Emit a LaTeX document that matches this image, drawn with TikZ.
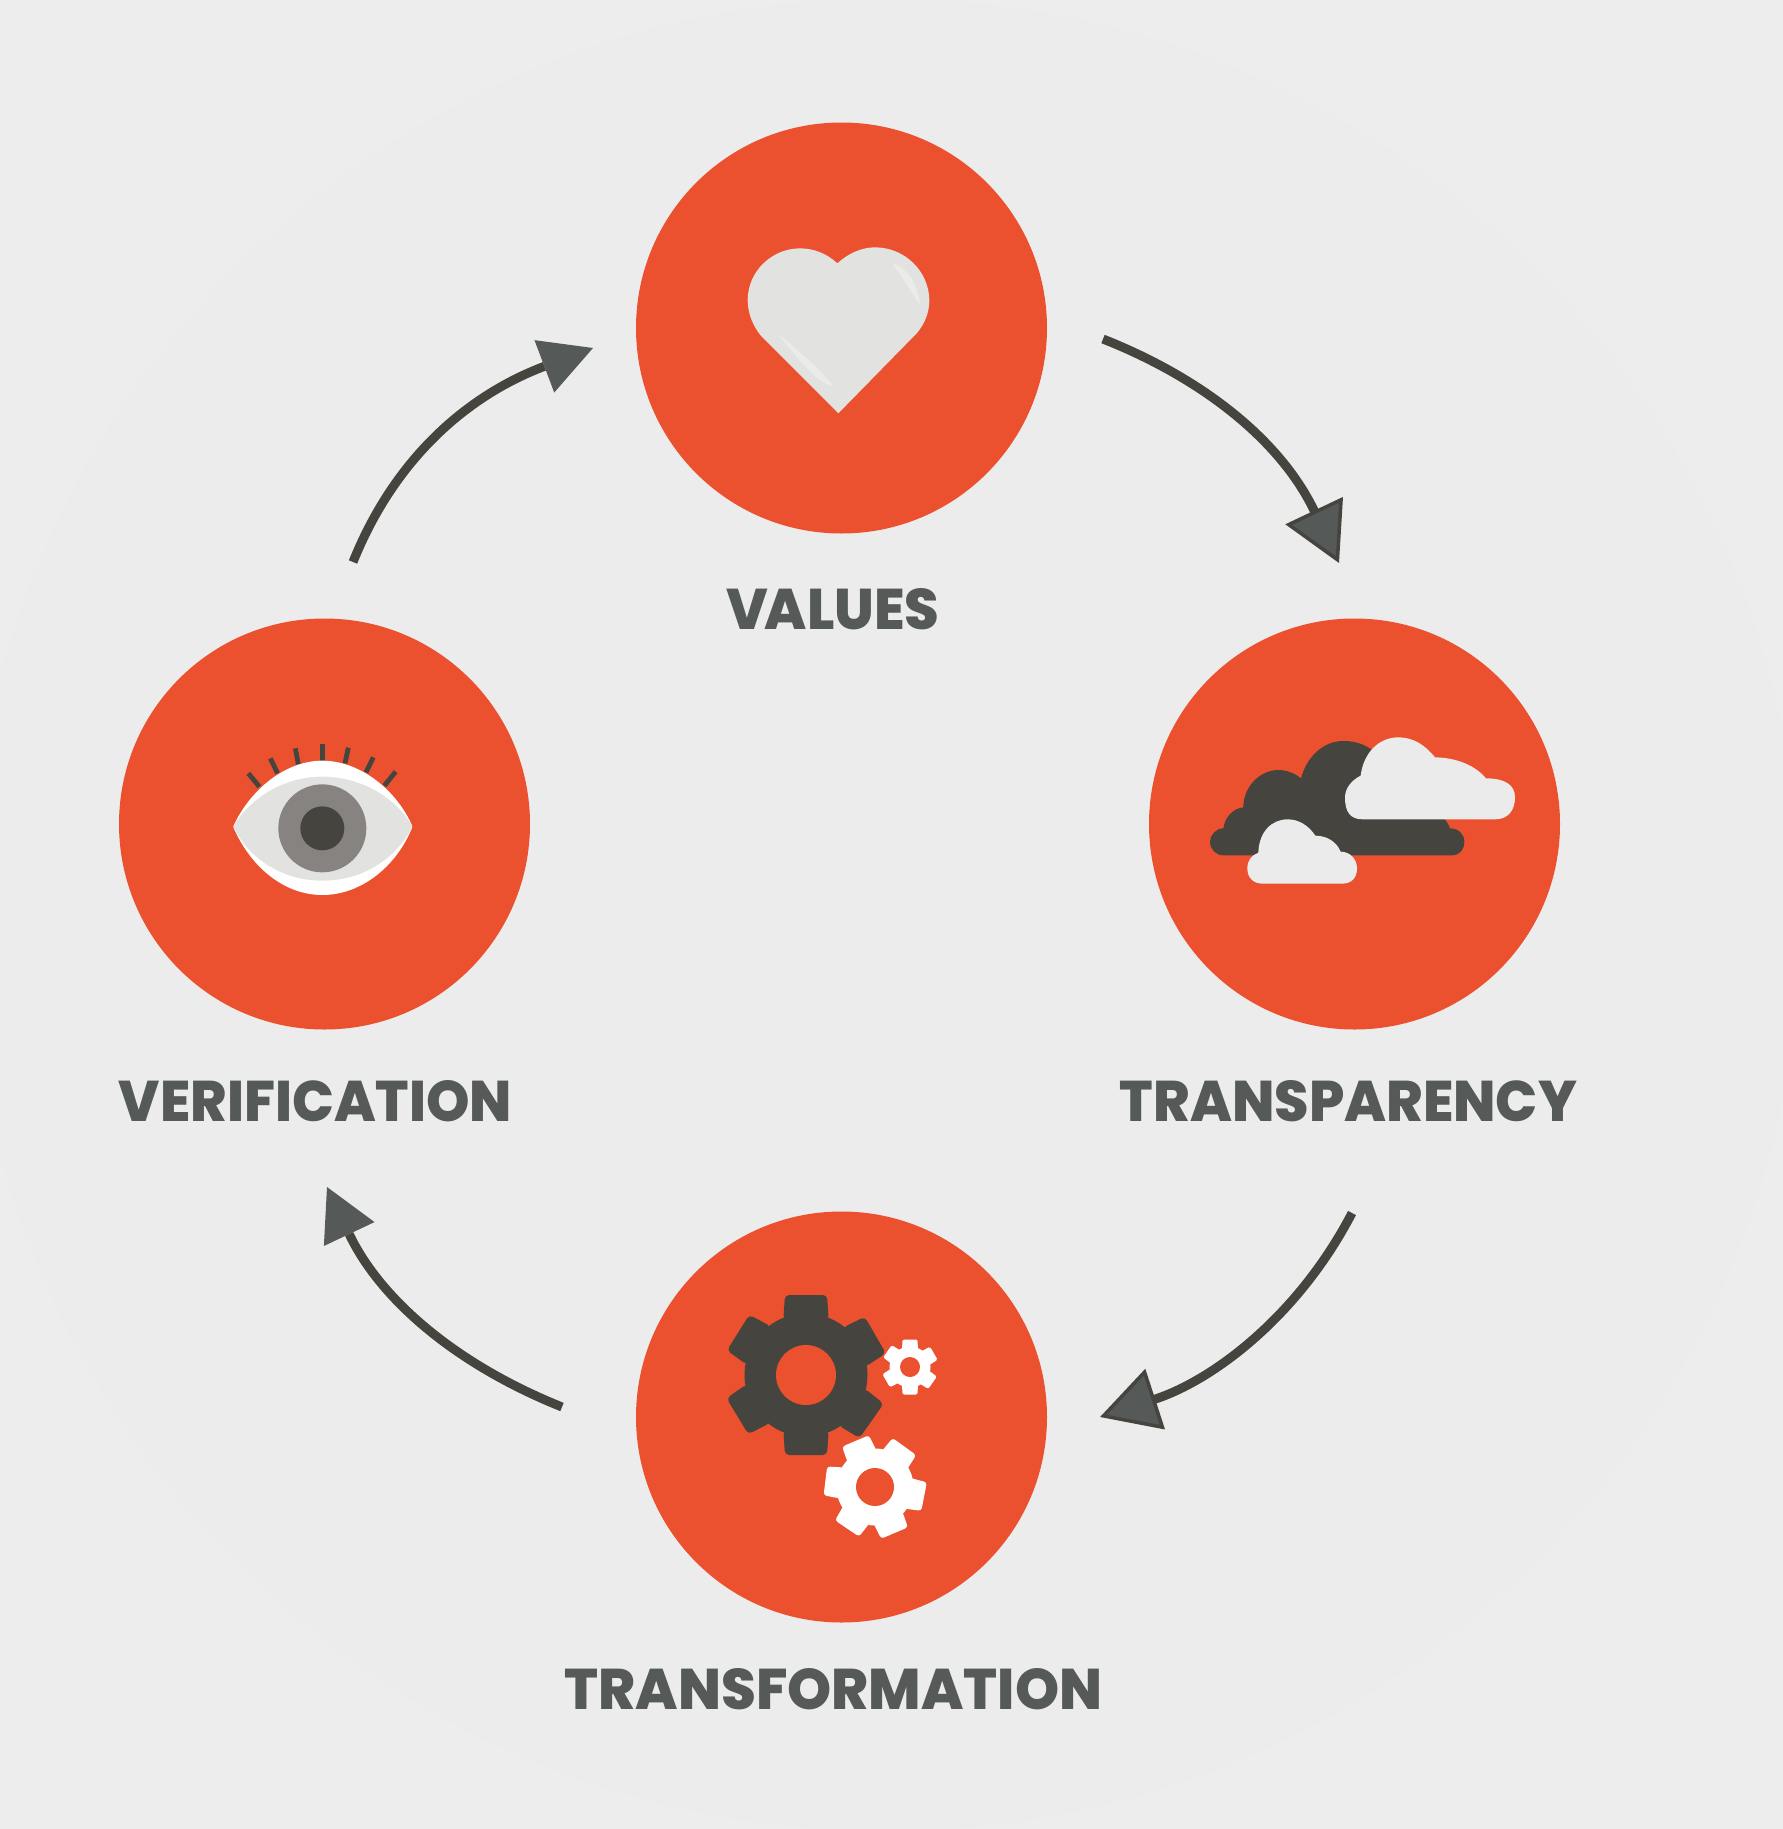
\documentclass[tikz,border=0pt]{standalone}
\usepackage{fontspec}
\usepackage{graphicx}
\usetikzlibrary{arrows.meta}
\newfontfamily\lab{Poppins ExtraBold}
\definecolor{bgout}{HTML}{EDEDED}
\definecolor{bgin}{HTML}{ECECEC}
\definecolor{disc}{HTML}{EB512E}
\definecolor{dark}{HTML}{45443E}
\definecolor{tipfill}{HTML}{555957}
\definecolor{lab}{HTML}{555957}
\definecolor{cloudw}{HTML}{EBEBEB}
\definecolor{heartc}{HTML}{E2E2E0}
\definecolor{hl}{HTML}{EBEBEA}
\definecolor{iris}{HTML}{868381}
\tikzset{
  discnode/.style={circle,fill=disc,minimum size=411pt,inner sep=0pt,outer sep=0pt},
  labelnode/.style={inner sep=0pt,outer sep=0pt,text=lab,font=\lab},
  flowarrow/.style={draw=dark,line width=9pt},
  outlinedtip/.style={-{Triangle[length=58pt,width=63pt,fill=tipfill,line width=3.5pt]}},
  flattip/.style={-{Triangle[length=52pt,width=56pt,fill=tipfill,color=tipfill,line width=0pt]}},
  lash/.style={draw=dark,line width=4.8pt},
}
% gear: center, body r, tooth tip r, tooth half width, hole r, colour, angle list
\newcommand{\gearicon}[7]{%
  \fill[#6] (#1) circle[radius=#2];
  \foreach \a in {#7}{
    \fill[#6,rounded corners={#4*0.2pt},shift={(#1)},rotate=-\a]
      (#2-6,{-#4*1.08}) -- (#3,-#4) -- (#3,#4) -- (#2-6,{#4*1.08}) -- cycle;
  }
  \fill[disc] (#1) circle[radius=#5];
}
\begin{document}
\begin{tikzpicture}[x=1pt,y=-1pt]
\useasboundingbox (0,0) rectangle (1783,1829);
\fill[bgout] (0,0) rectangle (1783,1829);
\fill[bgin] (885,915) circle[radius=916];

\node[discnode] (values) at (841.5,328) {};
\node[discnode] (transparency) at (1354.5,824) {};
\node[discnode] (transformation) at (841.5,1417) {};
\node[discnode] (verification) at (324.5,824) {};

% labels
\node[labelnode] (lvalues) at (833,609) {\resizebox{213pt}{41pt}{V\kern-.06em ALUES}};
\node[labelnode] (ltransparency) at (1348.5,1101.5) {\resizebox{457pt}{41pt}{TRANSPARENCY}};
\node[labelnode] (lverification) at (315.5,1101.5) {\resizebox{393pt}{41pt}{VERIFICATION}};
\node[labelnode] (ltransformation) at (833.5,1689) {\resizebox{537pt}{41pt}{TRANSFORMATION}};

% connectors
\coordinate (a1s) at (1103,339);
\coordinate (a1e) at (1339,563);
\coordinate (a2s) at (1352,1213);
\coordinate (a2e) at (1100,1417);
\coordinate (a3s) at (562,1407);
\coordinate (a3e) at (327,1187);
\coordinate (a4s) at (353,562);
\coordinate (a4e) at (593,348);
\draw[flowarrow,outlinedtip] (a1s) .. controls (1209,381) and (1283,445) .. (a1e);
\draw[flowarrow,outlinedtip] (a2s) .. controls (1299,1315) and (1214,1380) .. (a2e);
\draw[flowarrow,flattip] (a3s) .. controls (450,1362) and (378,1295) .. (a3e);
\draw[flowarrow,flattip] (a4s) .. controls (396,455) and (471,394) .. (a4e);

% heart
\begin{scope}[shift={(700,210)},scale=1/3]
\fill[heartc] (412,160) .. controls (445,130) and (485,112) .. (525,112)
  .. controls (615,112) and (688,185) .. (688,272)
  .. controls (688,310) and (672,345) .. (650,370)
  -- (415,610) -- (185,380)
  .. controls (160,350) and (143,312) .. (143,270)
  .. controls (143,185) and (215,115) .. (300,115)
  .. controls (340,115) and (380,130) .. (412,160) -- cycle;
\fill[hl] (575,158) .. controls (620,175) and (650,210) .. (660,285)
  .. controls (630,240) and (600,190) .. (575,158) -- cycle;
\fill[hl] (232,370) .. controls (290,415) and (360,480) .. (400,528)
  .. controls (350,520) and (290,440) .. (232,370) -- cycle;
\end{scope}

% clouds
\begin{scope}[shift={(1190,710)},scale=1/3]
\fill[dark] (100,436) -- (785,436) .. controls (810,436) and (823,418) .. (823,395)
  .. controls (823,372) and (805,355) .. (780,355)
  .. controls (770,325) and (740,300) .. (700,290) -- (560,130)
  .. controls (530,105) and (500,93) .. (460,93)
  .. controls (400,93) and (350,140) .. (333,205)
  .. controls (315,190) and (290,180) .. (265,180)
  .. controls (210,180) and (160,230) .. (160,292)
  .. controls (130,295) and (105,320) .. (100,355)
  .. controls (78,355) and (60,375) .. (60,395)
  .. controls (60,418) and (78,436) .. (100,436) -- cycle;
\fill[cloudw] (518,328) -- (915,328) .. controls (955,328) and (975,300) .. (975,262)
  .. controls (975,225) and (945,205) .. (888,205)
  .. controls (850,160) and (790,143) .. (735,142)
  .. controls (705,105) and (670,82) .. (625,82)
  .. controls (565,82) and (520,130) .. (512,197)
  .. controls (485,210) and (465,235) .. (465,262)
  .. controls (465,305) and (480,328) .. (518,328) -- cycle;
\fill[cloudw] (218,521) -- (456,521) .. controls (485,521) and (501,503) .. (501,475)
  .. controls (501,447) and (480,425) .. (452,425)
  .. controls (440,395) and (410,377) .. (376,377)
  .. controls (355,345) and (325,328) .. (293,328)
  .. controls (245,328) and (207,365) .. (205,428)
  .. controls (185,435) and (172,452) .. (172,475)
  .. controls (172,503) and (190,521) .. (218,521) -- cycle;
\end{scope}

% eye
\begin{scope}[shift={(210,720)},scale=1/3]
\draw[lash] (337,72) -- (337,125);
\draw[lash] (256,85) -- (265,133);
\draw[lash] (181,115) -- (203,160);
\draw[lash] (115,160) -- (148,200);
\draw[lash] (415,83) -- (405,130);
\draw[lash] (490,112) -- (468,157);
\draw[lash] (557,155) -- (523,197);
\filldraw[fill=white,draw=white,line width=4pt,line join=round] (76,320) .. controls (126,212) and (230,128) .. (337,128)
  .. controls (445,128) and (554,212) .. (601,320)
  .. controls (554,436) and (450,519) .. (337,519)
  .. controls (225,519) and (126,436) .. (76,320) -- cycle;
\filldraw[fill=heartc,draw=heartc,line width=4pt,line join=round] (76,320) .. controls (136,224) and (240,176) .. (337,176)
  .. controls (435,176) and (544,224) .. (601,320)
  .. controls (544,426) and (440,476) .. (337,476)
  .. controls (235,476) and (131,426) .. (76,320) -- cycle;
\fill[iris] (337,325) circle[radius=132];
\fill[dark] (337,325) circle[radius=66];
\end{scope}

% gears
\gearicon{806,1375}{61.5}{80}{21}{30}{dark}{90,35,-30,-90,-148,149}
\gearicon{875,1487}{38.5}{50}{14.5}{19}{white}{67,11,-54,-113,187,124}
\gearicon{910,1367}{20.5}{27.5}{7.5}{10}{white}{90,35,-30,-90,-145,150}
\end{tikzpicture}
\end{document}
